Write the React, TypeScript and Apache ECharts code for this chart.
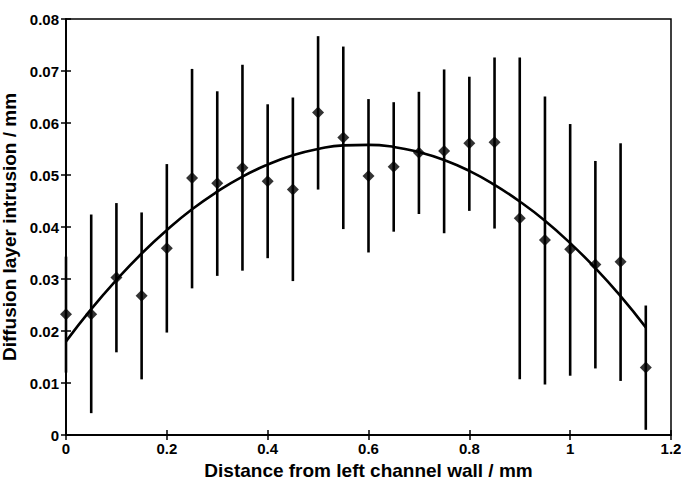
import React, { useEffect, useRef } from "react";
import * as echarts from "echarts";

const xValues = [0, 0.05, 0.1, 0.15, 0.2, 0.25, 0.3, 0.35, 0.4, 0.45, 0.5, 0.55, 0.6, 0.65, 0.7, 0.75, 0.8, 0.85, 0.9, 0.95, 1.0, 1.05, 1.1, 1.15];
const meanValues = [0.0232, 0.0232, 0.0303, 0.0268, 0.0359, 0.0494, 0.0484, 0.0514, 0.0488, 0.0472, 0.062, 0.0572, 0.0498, 0.0516, 0.0543, 0.0546, 0.0561, 0.0563, 0.0417, 0.0375, 0.0357, 0.0328, 0.0333, 0.013];
const upperValues = [0.0343, 0.0424, 0.0446, 0.0428, 0.0521, 0.0704, 0.0661, 0.0712, 0.0636, 0.0649, 0.0767, 0.0747, 0.0646, 0.064, 0.066, 0.0703, 0.0689, 0.0726, 0.0726, 0.0651, 0.0598, 0.0527, 0.0561, 0.0249];
const lowerValues = [0.012, 0.0042, 0.0159, 0.0107, 0.0197, 0.0282, 0.0306, 0.0316, 0.034, 0.0296, 0.0472, 0.0396, 0.0351, 0.0391, 0.0425, 0.0388, 0.0431, 0.0397, 0.0107, 0.0097, 0.0114, 0.0128, 0.0104, 0.001];
const fitValues = [0.018, 0.0242, 0.0298, 0.0349, 0.0394, 0.0434, 0.0468, 0.0497, 0.052, 0.0538, 0.055, 0.0557, 0.0558, 0.0554, 0.0544, 0.0529, 0.0508, 0.0481, 0.0449, 0.0412, 0.0369, 0.0321, 0.0267, 0.0207];

const xTitle = "Distance from left channel wall / mm";
const yTitle = "Diffusion layer intrusion / mm";

const FONT = "'Liberation Sans', Arial, sans-serif";

export default function App() {
  const ref = useRef<HTMLDivElement>(null);
  useEffect(() => {
    if (!ref.current) return;
    const chart = echarts.init(ref.current, null, { renderer: "svg" });
    const tickStyle = { show: true, inside: true, length: 5, lineStyle: { color: "#000", width: 1.5 } };
    const labelStyle = { color: "#000", fontFamily: FONT, fontWeight: "bold" as const, fontSize: 15 };
    chart.setOption({
      animation: false,
      backgroundColor: "#fff",
      grid: { left: 66, right: 10, top: 19, bottom: 48, outerBoundsMode: "none", containLabel: false, show: true, borderColor: "#000", borderWidth: 1.5, backgroundColor: "transparent" },
      xAxis: [
        {
          type: "value", min: 0, max: 1.2, interval: 0.2,
          name: xTitle, nameLocation: "middle", nameGap: 24,
          nameTextStyle: { color: "#000", fontFamily: FONT, fontWeight: "bold", fontSize: 19 },
          axisLine: { show: true, lineStyle: { color: "#000", width: 1.5 } },
          axisTick: tickStyle,
          axisLabel: { ...labelStyle, margin: 6, formatter: (v: number) => String(Math.round(v * 10) / 10) },
          splitLine: { show: false },
        },
        {
          type: "value", min: 0, max: 1.2, interval: 0.2, position: "top",
          axisLine: { show: true, lineStyle: { color: "#000", width: 1.5 } },
          axisTick: tickStyle, axisLabel: { show: false }, splitLine: { show: false },
        },
      ],
      yAxis: [
        {
          type: "value", min: 0, max: 0.08, interval: 0.01,
          name: yTitle, nameLocation: "middle", nameGap: 39,
          nameTextStyle: { color: "#000", fontFamily: FONT, fontWeight: "bold", fontSize: 19 },
          axisLine: { show: true, lineStyle: { color: "#000", width: 1.5 } },
          axisTick: tickStyle,
          axisLabel: { ...labelStyle, margin: 7, formatter: (v: number) => (v === 0 ? "0" : v.toFixed(2)) },
          splitLine: { show: false },
        },
        {
          type: "value", min: 0, max: 0.08, interval: 0.01, position: "right",
          axisLine: { show: true, lineStyle: { color: "#000", width: 1.5 } },
          axisTick: tickStyle, axisLabel: { show: false }, splitLine: { show: false },
        },
      ],
      series: [
        {
          type: "custom",
          data: xValues.map((x, i) => [x, lowerValues[i], upperValues[i]]),
          renderItem: (params: any, api: any) => {
            const lo = api.coord([api.value(0), api.value(1)]);
            const hi = api.coord([api.value(0), api.value(2)]);
            return {
              type: "line",
              shape: { x1: lo[0], y1: lo[1], x2: hi[0], y2: hi[1] },
              style: { stroke: "#000", lineWidth: 2.6 },
            };
          },
          encode: { x: 0, y: [1, 2] },
          z: 1,
        },
        {
          type: "line",
          data: xValues.map((x, i) => [x, fitValues[i]]),
          smooth: true,
          showSymbol: false,
          lineStyle: { color: "#000", width: 2.6 },
          z: 2,
        },
        {
          type: "scatter",
          data: xValues.map((x, i) => [x, meanValues[i]]),
          symbol: "diamond",
          symbolSize: [12, 12],
          itemStyle: { color: "#000" },
          z: 3,
        },
      ],
    });
    return () => chart.dispose();
  }, []);
  return <div ref={ref} style={{ width: 681, height: 483, position: "absolute", left: 0, top: 0 }} />;
}
